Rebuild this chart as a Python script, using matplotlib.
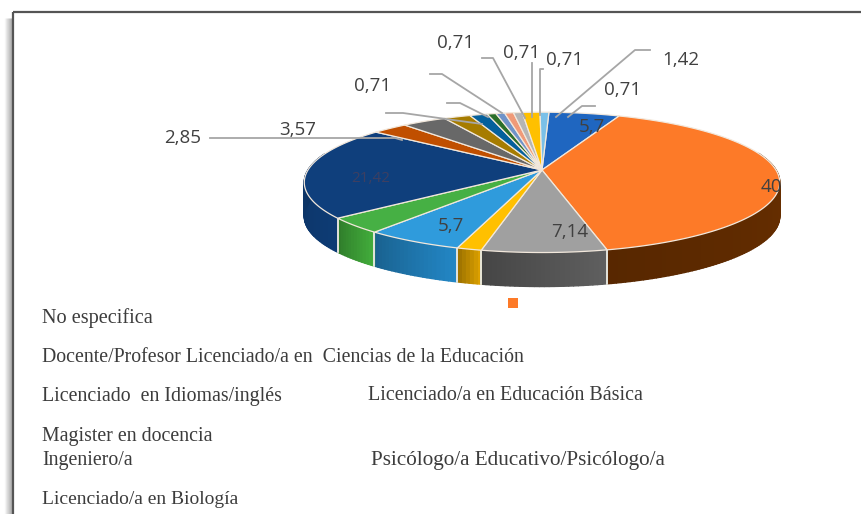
import numpy as np
import matplotlib
matplotlib.use('Agg')
import matplotlib.pyplot as plt
from matplotlib.colors import to_rgb

# Datos del grafico (porcentajes, en sentido horario desde arriba)
valores = [5.7, 40, 7.14, 1.42, 5.7, 3.57, 21.42, 2.85, 3.57, 2.14, 1.42, 0.71, 0.71, 0.71, 0.71, 1.42, 0.71]
colores = ['#1f66c0', '#fd7a28', '#a0a0a0', '#ffc000', '#2f9bdc', '#46b044', '#0f3f7c', '#c04f00', '#686868',
           '#a67c00', '#04609c', '#2b6f2a', '#6f93c9', '#f09a78', '#b5b5b5', '#ffc000', '#7ac0e8']
colores_lado = ['#174d90', '#6b3000', '#555555', '#c48f00', '#1f78b0', '#3b9a35', '#0c3568', '#8a3900', '#4a4a4a',
                '#7a5b00', '#034670', '#1f501e', '#4f6c94', '#b07258', '#858585', '#c48f00', '#5a8cab']

# texto, x, y de las etiquetas
etiquetas = [('5,7', 592, 127), ('40', 771, 187), ('7,14', 570, 232), ('5,7', 451, 226),
             ('0,71', 373, 86), ('0,71', 456, 43), ('0,71', 522, 53), ('0,71', 565, 60),
             ('1,42', 681, 60), ('0,71', 623, 90), ('2,85', 183, 138), ('3,57', 298, 130)]

# lineas guia
guias = [([482, 493, 525], [58, 58, 118]), ([430, 442, 502], [74, 74, 113]),
         ([447, 460, 488], [103, 103, 117]), ([386, 403, 482], [113, 113, 124]),
         ([210, 395, 402], [138, 138, 140]), ([532, 532], [63, 117]),
         ([543, 540, 540], [69, 69, 115]), ([650, 635, 556], [50, 50, 117]),
         ([595, 582, 568], [106, 106, 117])]

# leyenda: texto, x, y, tamano
leyenda = [('No especifica', 42, 318, 14.6),
           ('Docente/Profesor Licenciado/a en  Ciencias de la Educación', 42, 357, 14.3),
           ('Licenciado  en Idiomas/inglés', 42, 396, 14.3),
           ('Licenciado/a en Educación Básica', 368, 396, 14.4),
           ('Magister en docencia', 42, 436, 14.3),
           ('Ingeniero/a', 42, 461, 14.3),
           ('Psicólogo/a Educativo/Psicólogo/a', 371, 461, 15.2),
           ('Licenciado/a en Biología', 42, 500, 14)]

CX, CY = 542, 170
ESC_X, ESC_Y = 234, 68
P = 0.176
ALTO = 34
INICIO = 2.0


# Proyeccion en perspectiva del disco
def proyectar(ang, r=1.0):
    t = np.radians(ang)
    u = r * np.sin(t)
    v = r * np.cos(t)
    d = 1 + P * v
    return CX + ESC_X * u / d, CY - ESC_Y * v / d


fig = plt.figure(figsize=(8.61, 5.14), dpi=100)
ax = fig.add_axes([0, 0, 1, 1])
ax.set_xlim(0, 861)
ax.set_ylim(514, 0)
ax.axis('off')

# Marco con sombra a la izquierda
for i, x in enumerate(range(5, 13)):
    ax.plot([x, x], [18, 514], color='black', alpha=0.03 + 0.035 * i, lw=1, solid_capstyle='butt')
ax.plot([13, 13], [12, 514], color='#555555', lw=1.6, solid_capstyle='butt')
ax.plot([13, 861], [12, 12], color='#555555', lw=1.6, solid_capstyle='butt')

total = sum(valores)
angulos = INICIO + np.cumsum([0] + valores) / total * 360

# Pared lateral, con degradado en cada porcion
for ini, fin, col in zip(angulos[:-1], angulos[1:], colores_lado):
    pasos = max(int(fin - ini) + 2, 2)
    ts = np.linspace(ini, fin, pasos)
    base = np.array(to_rgb(col))
    for k in range(pasos - 1):
        a0, a1 = ts[k], ts[k + 1]
        if np.cos(np.radians((a0 + a1) / 2)) > 0.25:
            continue
        x0, y0 = proyectar(a0)
        x1, y1 = proyectar(a1)
        f = 1.12 - 0.3 * k / max(pasos - 2, 1)
        c = np.clip(base * f, 0, 1)
        ax.fill([x0, x1, x1, x0], [y0, y1, y1 + ALTO, y0 + ALTO], facecolor=c, edgecolor=c, lw=1.0,
                joinstyle='round', zorder=2)
    for a in (ini, fin):
        if np.cos(np.radians(a)) < -0.1:
            x0, y0 = proyectar(a)
            ax.plot([x0, x0], [y0, y0 + ALTO], color='#e8e8e0', lw=1.1, zorder=3)

# Cara superior
for ini, fin, col in zip(angulos[:-1], angulos[1:], colores):
    ts = np.linspace(ini, fin, max(int(fin - ini) * 2 + 2, 3))
    xs, ys = proyectar(ts)
    ax.fill(np.r_[CX, xs], np.r_[CY, ys], facecolor=col, edgecolor='#f2e8dc', lw=0.9, joinstyle='round', zorder=4)

for xs, ys in guias:
    ax.plot(xs, ys, color='#a6a6a6', lw=1.3, zorder=5)

for txt, x, y in etiquetas:
    ax.text(x, y, txt, fontsize=13.5, family='Open Sans', color='#404040', ha='center', va='center', zorder=6)
ax.text(371, 178, '21,42', fontsize=11, family='Open Sans', color='#3d3f62', ha='center', va='center', zorder=6)

# Leyenda
ax.scatter([513], [303], marker='s', s=62, color='#fd7a28', lw=0, zorder=6)
for txt, x, y, tam in leyenda:
    ax.text(x, y, txt, fontsize=tam, family='Liberation Serif', color='#3c3c3c', ha='left', va='center')

fig.savefig('out.png', dpi=100)
